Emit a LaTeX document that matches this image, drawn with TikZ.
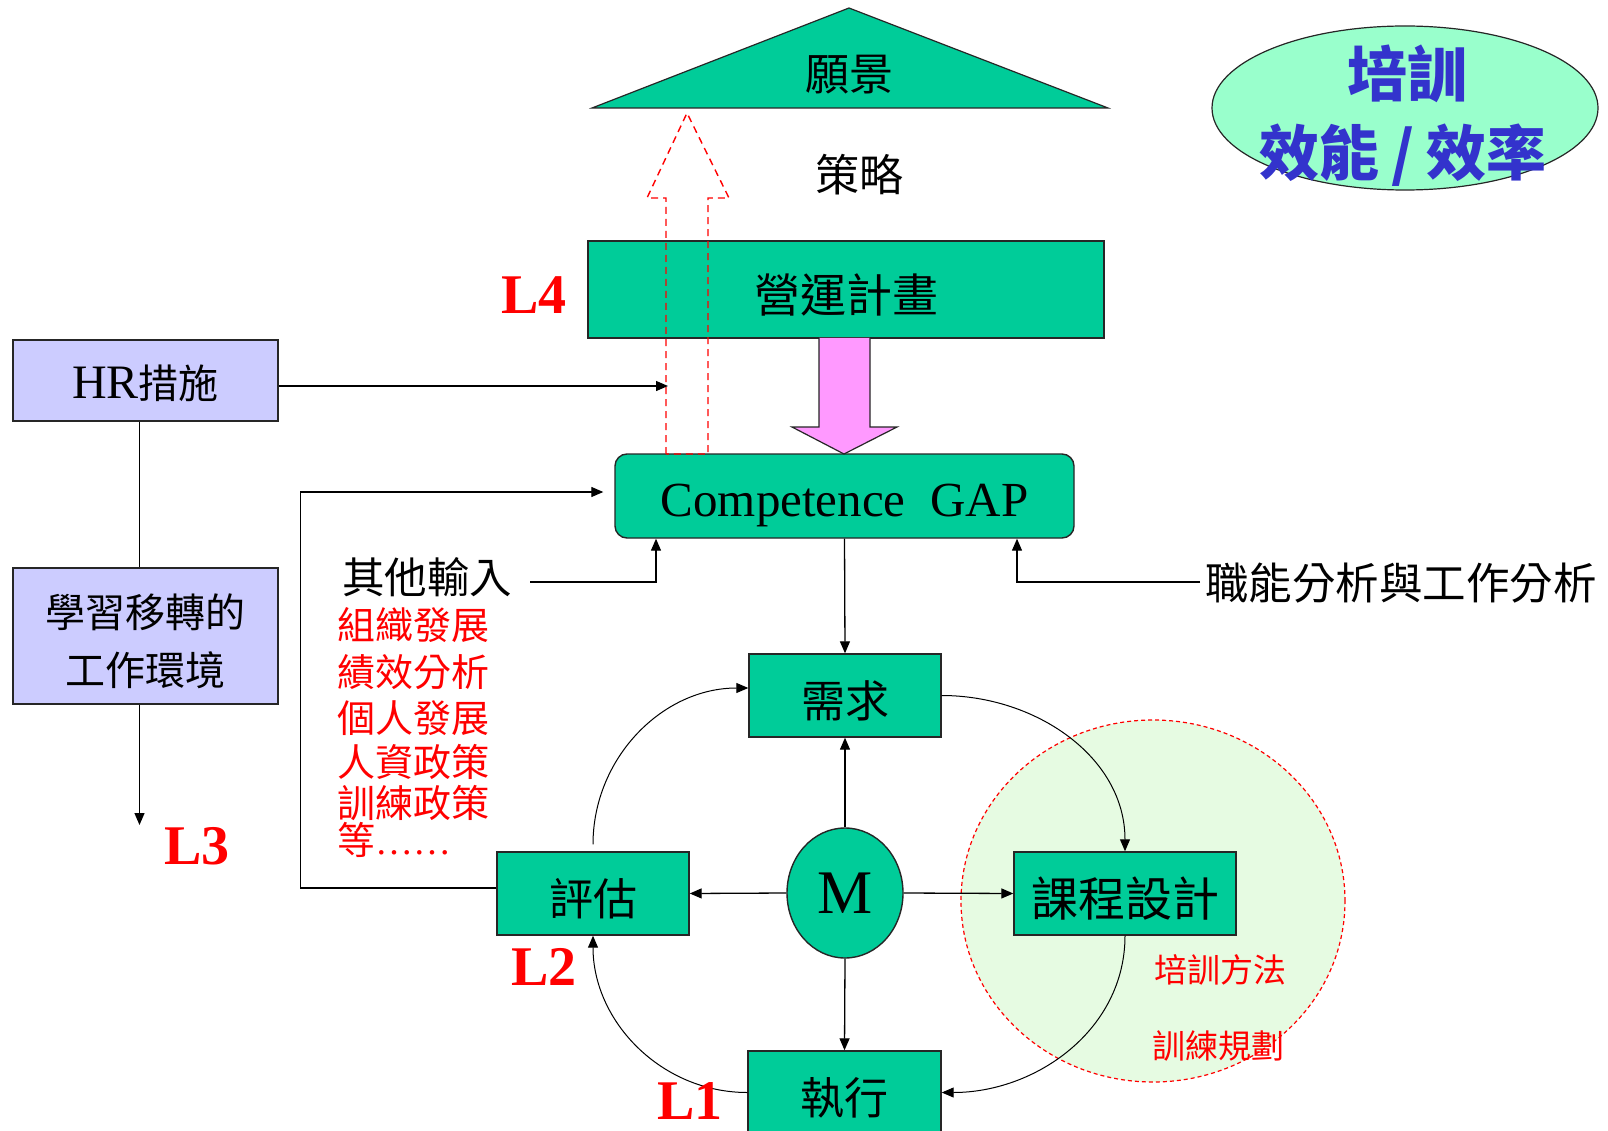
\documentclass[tikz,border=0pt]{standalone}
\usepackage{fontspec}
\setmainfont{Liberation Serif}
\newfontfamily\cjk{Noto Sans CJK TC}
\usetikzlibrary{arrows.meta,shapes.geometric}
\definecolor{pgreen}{HTML}{00CC99}
\definecolor{pmint}{HTML}{99FFCC}
\definecolor{plav}{HTML}{CCCCFF}
\definecolor{ppink}{HTML}{FF99FF}
\definecolor{plgreen}{HTML}{E6FBE2}
\definecolor{pblue}{HTML}{3333CC}
\newcommand{\fsz}[2]{\fontsize{#1}{#2}\selectfont}
\begin{document}
\begin{tikzpicture}[x=1pt,y=-1pt,
  box/.style={draw=black!85, line width=1.4pt, fill=pgreen, inner sep=0pt},
  lbox/.style={draw=black!85, line width=1.4pt, fill=plav, inner sep=0pt, minimum width=265pt},
  conn/.style={line width=1.3pt, -{Triangle[length=12pt,width=10pt]}},
  curv/.style={line width=1pt, -{Triangle[length=12pt,width=10pt]}},
  lev/.style={text=red, font=\fsz{56}{60}\bfseries},
  redtxt/.style={text=red, font=\cjk\fsz{38}{40}, anchor=west, inner sep=0pt},
]
\useasboundingbox (0,0) rectangle (1608,1131);
\fill[white] (0,0) rectangle (1608,1131);

% dashed group circle
\node[ellipse, draw=red, line width=1.2pt, dash pattern=on 4pt off 3pt, fill=plgreen,
  minimum width=384pt, minimum height=362pt, inner sep=0pt] (group) at (1153,901) {};

% vision triangle
\draw[fill=pgreen, draw=black!85, line width=1.2pt] (592,108) -- (849,8) -- (1108,108) -- cycle;
\node[font=\cjk\fsz{44}{48}] (vision) at (849,75) {願景};
\node[font=\cjk\fsz{44}{48}] (strat) at (859,175) {策略};

% top-right ellipse
\node[ellipse, draw=black!85, line width=1.2pt, fill=pmint, minimum width=386pt,
  minimum height=164pt, inner sep=0pt] (eff) at (1405,108) {};
\node[text=pblue, font=\cjk\fsz{60}{64}\bfseries] (effa) at (1407,74) {培訓};
\node[text=pblue, font=\cjk\fsz{60}{64}\bfseries] (effb) at (1403,155) {效能\hspace{12pt}/\hspace{12pt}效率};

% plan box
\node[box, minimum width=516pt, minimum height=97pt, text height=46pt, text depth=0pt, font=\cjk\fsz{46}{50}] (plan) at (846,289.5) {營運計畫};

% HR boxes
\node[lbox, minimum height=81pt, text height=36pt, text depth=0pt] (hr) at (145.5,380.5) {\fsz{48}{50}HR{\cjk\fsz{40}{50}措施}};
\node[lbox, minimum height=136pt, align=center, font=\cjk\fsz{40}{58}] (learn) at (145.5,636) {\rule{0pt}{44pt}學習移轉的\\工作環境};
\coordinate (l3end) at (139.5,825);
\node[lev] (L3) at (197,846) {L3};

% competence
\node[box, rounded corners=12pt, minimum width=459pt, minimum height=84pt, text height=40pt, text depth=0pt, font=\fsz{49}{54}] (comp) at (844.5,496) {Competence\ \ GAP};

% pink arrow
\draw[fill=ppink, draw=black!85, line width=1.2pt] (819,338) -- (819,427) -- (792,427) -- (844,454) -- (897,427) -- (870,427) -- (870,338);

% dashed hollow arrow
\draw[red, line width=1.4pt, dash pattern=on 7pt off 5pt] (666,454) -- (666,198) -- (647,198) -- (687,113) -- (729,198) -- (708,198) -- (708,454) -- cycle;

% HR arrow
\coordinate (hrend) at (668,386);
\draw[conn] ([yshift=-5.5pt]hr.east) -- (hrend);
\draw[line width=1.3pt] ([xshift=-6pt]hr.south) -- ([xshift=-6pt]learn.north);
\draw[conn] ([xshift=-6pt]learn.south) -- (l3end);

% other inputs
\node[font=\cjk\fsz{42.5}{45}] (others) at (427,577) {其他輸入};
\coordinate (oin) at (530,582);
\draw[conn] (oin) -| ([xshift=-188.5pt]comp.south);
\node[redtxt] (r1) at (337,625) {組織發展};
\node[redtxt] (r2) at (337,672) {績效分析};
\node[redtxt] (r3) at (337,718) {個人發展};
\node[redtxt] (r4) at (337,762) {人資政策};
\node[redtxt] (r5) at (337,803) {訓練政策};
\node[redtxt] (r6) at (337,840) {等{\rmfamily\fsz{38}{40}……}};

% job analysis
\node[font=\cjk\fsz{43.5}{45}] (job) at (1401,583) {職能分析與工作分析};
\coordinate (jin) at (1200,582);
\draw[conn] (jin) -| ([xshift=172.5pt]comp.south);

% cycle
\node[box, minimum width=192pt, minimum height=83pt, text height=43pt, text depth=0pt, font=\cjk\fsz{44}{48}] (need) at (845,695.5) {需求};
\node[box, minimum width=192pt, minimum height=83pt, text height=43pt, text depth=0pt, font=\cjk\fsz{44}{48}] (eval) at (593,893.5) {評估};
\node[box, minimum width=222pt, minimum height=83pt, text height=45pt, text depth=0pt, font=\cjk\fsz{47}{48}] (design) at (1125,893.5) {課程設計};
\node[box, minimum width=193pt, minimum height=83pt, text height=43pt, text depth=0pt, font=\cjk\fsz{44}{48}] (exec) at (844.5,1092.5) {執行};
\node[box, ellipse, minimum width=116pt, minimum height=130pt, font=\fsz{62}{66}] (M) at (845,893) {M};

\draw[conn] (comp.south) -- (need.north);
\draw[conn] (M.north) -- (need.south);
\draw[conn] (M.west) -- (eval.east);
\draw[conn] (M.east) -- (design.west);
\draw[conn] (M.south) -- (exec.north);
\draw[conn, shorten >=11pt] ([yshift=5.5pt]eval.west) -- ++(-196,0) |- ([yshift=4pt]comp.west);

\draw[curv] (need.east) to[out=0,in=90] (design.north);
\draw[curv] (design.south) to[out=-90,in=0] (exec.east);
\draw[curv] (exec.west) to[out=180,in=-90] (eval.south);
\draw[curv] ([yshift=7pt]eval.north) to[out=90,in=180] ([yshift=7.5pt]need.west);

\node[text=red, font=\cjk\fsz{33}{36}] (meth) at (1220,970) {培訓方法};
\node[text=red, font=\cjk\fsz{33}{36}] (plang) at (1218,1046) {訓練規劃};

\node[lev] (L4) at (534,295) {L4};
\node[lev] (L2) at (544,967) {L2};
\node[lev] (L1) at (690,1101) {L1};
\end{tikzpicture}
\end{document}
